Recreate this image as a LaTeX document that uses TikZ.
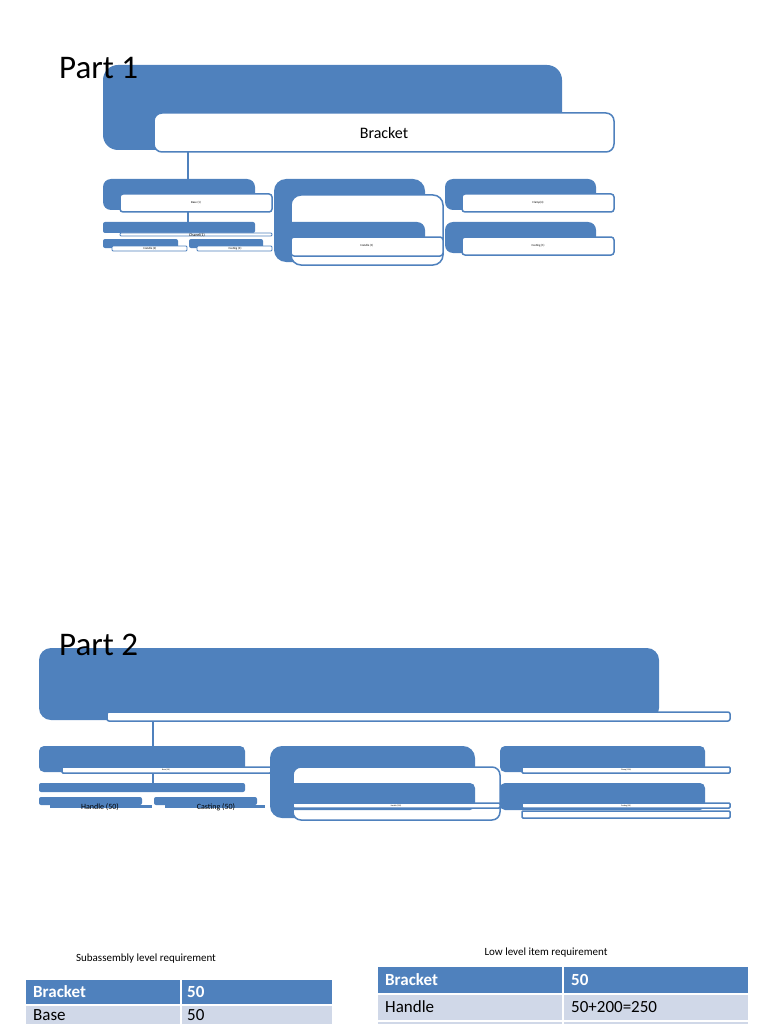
\documentclass[tikz,border=0pt]{standalone}
\usepackage{fontspec}
\setmainfont{Carlito}
\definecolor{bl}{HTML}{4F81BD}
\definecolor{lb}{HTML}{D0D8E8}
\begin{document}
\begin{tikzpicture}[x=1pt,y=-1pt,
 bbox/.style={fill=bl,rounded corners=#1},bbox/.default=8,
 wbox/.style={fill=white,draw=bl,line width=1.5pt,rounded corners=#1},wbox/.default=5,
 tiny/.style={font=\fontsize{3}{3}\selectfont},
 lbl/.style={inner sep=0pt},
 cell/.style={anchor=west,inner sep=0pt,font=\fontsize{17}{17}\selectfont},
 hcell/.style={cell,text=white,font=\bfseries\fontsize{17}{17}\selectfont},
 conn/.style={draw=bl,line width=1.5pt}]
\useasboundingbox (0,0) rectangle (768,1024);
% Part 1
\fill[bbox=15] (103,65) rectangle (562,150);
\draw[wbox=8] (154,113) rectangle (614,152);
\node[lbl,font=\fontsize{16}{16}\selectfont] (br) at (384,133) {Bracket};
\coordinate (a1) at (188,152); \coordinate (a2) at (188,180);
\draw[conn] (a1)--(a2);
\fill[bbox] (103,179) rectangle (255,210);
\draw[wbox=3] (120,194) rectangle (272,212);
\node[lbl,tiny] (base1) at (196,203) {Base (1)};
\fill[bbox=12] (274,179) rectangle (425,262);
\draw[wbox=10] (291,195) rectangle (443,265);
\fill[bbox] (274,222) rectangle (425,252);
\draw[wbox=3] (291,237) rectangle (443,256);
\node[lbl,tiny] (h1) at (367,246) {Handle (1)};
\fill[bbox] (445,179) rectangle (596,210);
\draw[wbox=3] (462,194) rectangle (614,212);
\node[lbl,tiny] (cl1) at (538,203) {Clamp(4)};
\fill[bbox] (445,222) rectangle (596,253);
\draw[wbox=3] (462,237) rectangle (614,255);
\node[lbl,tiny] (ca1) at (538,246) {Casting (1)};
\coordinate (b1) at (188,212); \coordinate (b2) at (188,222);
\draw[conn] (b1)--(b2);
\fill[bbox=2] (103,222) rectangle (255,233);
\draw[wbox=1,line width=0.8pt] (120,233) rectangle (272,236);
\node[lbl,font=\fontsize{4}{4}\selectfont] (ch1) at (197,235) {Chanel(1)};
\fill[bbox=2] (103,239) rectangle (178,248);
\draw[wbox=1,line width=0.8pt] (112,246) rectangle (187,251);
\node[lbl,tiny] (h2) at (150,249) {Handle (2)};
\fill[bbox=2] (189,239) rectangle (263,248);
\draw[wbox=1,line width=0.8pt] (197,246) rectangle (272,251);
\node[lbl,tiny] (c3) at (235,249) {Casting (3)};
\node[anchor=west,font=\fontsize{33}{33}\selectfont,lbl] (p1) at (59,68) {Part 1};
% Part 2
\fill[bbox=12] (39,648) rectangle (659,720);
\draw[wbox=2] (107,712) rectangle (730,721);
\coordinate (c1) at (153,721); \coordinate (c2) at (153,746);
\draw[conn] (c1)--(c2);
\fill[bbox=5] (39,746) rectangle (245,772);
\draw[wbox=1] (62,767) rectangle (271,773);
\node[lbl,font=\fontsize{2}{2}\selectfont] (b50) at (166,770) {Base (50)};
\fill[bbox=12] (270,746) rectangle (475,818);
\draw[wbox=8] (293,767) rectangle (500,820);
\fill[bbox=5] (270,783) rectangle (475,810);
\draw[wbox=1] (293,803) rectangle (500,808);
\node[lbl,font=\fontsize{2}{2}\selectfont] (h50) at (396,806) {Handle (250)};
\fill[bbox=5] (500,746) rectangle (705,772);
\draw[wbox=1] (522,767) rectangle (730,773);
\node[lbl,font=\fontsize{2}{2}\selectfont] (cl50) at (626,770) {Clamp (200)};
\fill[bbox=5] (500,783) rectangle (705,810);
\draw[wbox=1] (522,803) rectangle (730,808);
\node[lbl,font=\fontsize{2}{2}\selectfont] (ca50) at (626,806) {Casting (50)};
\draw[wbox=1] (522,811) rectangle (730,818);
\coordinate (d1) at (153,773); \coordinate (d2) at (153,783);
\draw[conn] (d1)--(d2);
\fill[bbox=2] (39,783) rectangle (245,792);
\fill[bbox=2] (39,797) rectangle (142,805);
\fill[bl] (50,805) rectangle (152,808);
\node[lbl,font=\fontsize{8}{8}\selectfont] (hh50) at (100,807) {Handle (50)};
\fill[bbox=2] (154,797) rectangle (257,805);
\fill[bl] (165,805) rectangle (265,808);
\node[lbl,font=\fontsize{8}{8}\selectfont] (cc50) at (216,807) {Casting (50)};
\node[anchor=west,font=\fontsize{33}{33}\selectfont,lbl] (p2) at (59,645) {Part 2};
% Tables
\node[lbl,font=\fontsize{11}{11}\selectfont] (t1) at (146,959) {Subassembly level requirement};
\fill[bl] (26,980) rectangle (180,1004);
\fill[bl] (181.5,980) rectangle (332,1004);
\fill[lb] (26,1006) rectangle (180,1030);
\fill[lb] (181.5,1006) rectangle (332,1030);
\node[hcell] (r1a) at (33,992) {Bracket};
\node[hcell] (r1b) at (187,992) {50};
\node[cell] (r2a) at (33,1015) {Base};
\node[cell] (r2b) at (187,1015) {50};
\node[lbl,font=\fontsize{11}{11}\selectfont] (t2) at (546,953) {Low level item requirement};
\fill[bl] (378,967) rectangle (562,993);
\fill[bl] (564,967) rectangle (748,993);
\fill[lb] (378,995) rectangle (562,1020);
\fill[lb] (564,995) rectangle (748,1020);
\fill[lb] (378,1022) rectangle (562,1030);
\fill[lb] (564,1022) rectangle (748,1030);
\node[hcell] (s1a) at (385,980) {Bracket};
\node[hcell] (s1b) at (571,980) {50};
\node[cell] (s2a) at (385,1007) {Handle};
\node[cell] (s2b) at (571,1007) {50+200=250};
\end{tikzpicture}
\end{document}
